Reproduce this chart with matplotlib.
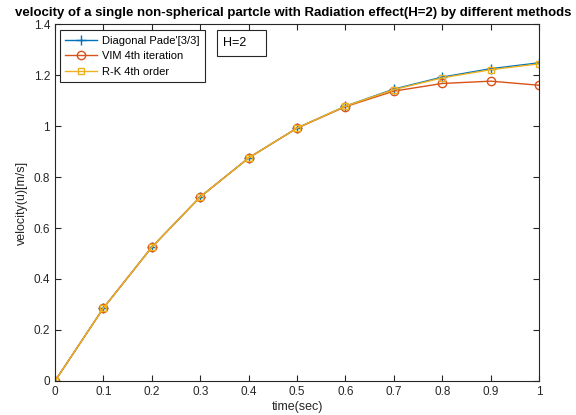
import matplotlib
matplotlib.use('Agg')
import matplotlib.pyplot as plt
from matplotlib.patches import Rectangle

plt.rcParams['font.family'] = ['Liberation Sans', 'DejaVu Sans']

# time points and velocity values
t = [0, 0.1, 0.2, 0.3, 0.4, 0.5, 0.6, 0.7, 0.8, 0.9, 1.0]
u_pade = [0, 0.286, 0.525, 0.722, 0.875, 0.992, 1.078, 1.145, 1.192, 1.225, 1.248]
u_vim = [0, 0.286, 0.525, 0.722, 0.875, 0.992, 1.076, 1.137, 1.167, 1.176, 1.160]
u_rk = [0, 0.286, 0.525, 0.722, 0.875, 0.992, 1.078, 1.143, 1.189, 1.221, 1.244]

xticks = [0, 0.1, 0.2, 0.3, 0.4, 0.5, 0.6, 0.7, 0.8, 0.9, 1]
xlabels = ['0', '0.1', '0.2', '0.3', '0.4', '0.5', '0.6', '0.7', '0.8', '0.9', '1']
yticks = [0, 0.2, 0.4, 0.6, 0.8, 1, 1.2, 1.4]
ylabels = ['0', '0.2', '0.4', '0.6', '0.8', '1', '1.2', '1.4']

fig = plt.figure(figsize=(5.76, 4.15), dpi=100)
ax = fig.add_axes([0.0955, 0.082, 0.8405, 0.860])

ax.plot(t, u_pade, color='#0072BD', marker='+', ms=7, lw=1, label="Diagonal Pade'[3/3]")
ax.plot(t, u_vim, color='#D95319', marker='o', ms=6, mfc='none', lw=1, label='VIM 4th iteration')
ax.plot(t, u_rk, color='#EDB120', marker='s', ms=5, mfc='none', lw=1, label='R-K 4th order')

ax.set_xlim(0, 1)
ax.set_ylim(0, 1.4)
ax.set_xticks(xticks)
ax.set_xticklabels(xlabels)
ax.set_yticks(yticks)
ax.set_yticklabels(ylabels)
ax.tick_params(direction='in', length=4, labelsize=8.5, colors='#262626', top=True, right=True,
               labeltop=False, labelright=False)
for s in ax.spines.values():
    s.set_color('#262626')
    s.set_linewidth(0.8)

ax.set_xlabel('time(sec)', fontsize=9, color='#262626', labelpad=2)
ax.set_ylabel('velocity(u)[m/s]', fontsize=9, color='#262626', labelpad=4)
ax.set_title('velocity of a single non-spherical partcle with Radiation effect(H=2) by different methods',
             fontsize=9.5, fontweight='bold', pad=6, x=0.492)

leg = ax.legend(loc='upper left', bbox_to_anchor=(0.01, 0.983), fontsize=8, fancybox=False,
                framealpha=1, edgecolor='#262626', borderpad=0.5, labelspacing=0.5,
                handlelength=2.8, handletextpad=0.5, borderaxespad=0)
leg.get_frame().set_linewidth(0.8)

ax.add_patch(Rectangle((0.335, 0.910), 0.101, 0.073, transform=ax.transAxes, fc='white',
                       ec='#262626', lw=0.8, zorder=5))
ax.text(0.347, 0.9465, 'H=2', transform=ax.transAxes, fontsize=9, va='center', ha='left', zorder=6)

fig.savefig('out.png', dpi=100)
